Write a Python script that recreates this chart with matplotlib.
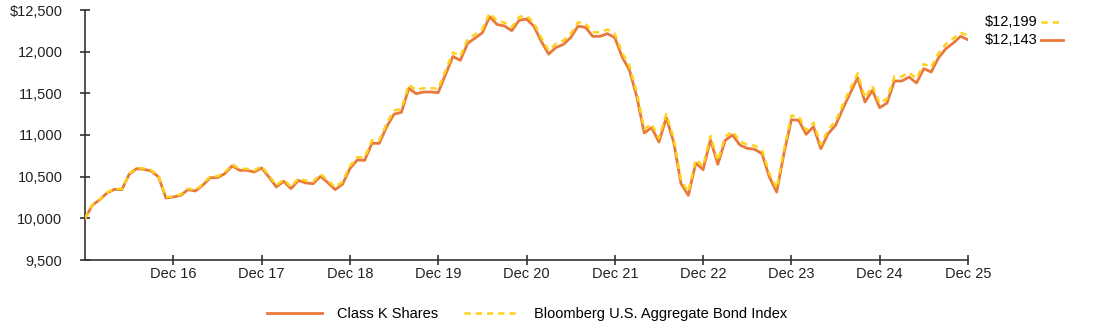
import numpy as np
import matplotlib
matplotlib.use("Agg")
import matplotlib.pyplot as plt
from matplotlib.lines import Line2D

plt.rcParams['font.family'] = ['Liberation Sans', 'DejaVu Sans']

# monthly values, Dec 2015 .. Dec 2025 (growth of $10,000)
class_k = [10000, 10156, 10224, 10304, 10348, 10344, 10528, 10596, 10588, 10568,
           10496, 10244, 10256, 10276, 10344, 10328, 10396, 10488, 10488, 10536,
           10630, 10576, 10576, 10556, 10604, 10496, 10376, 10444, 10356, 10456,
           10424, 10416, 10504, 10428, 10344, 10410, 10596, 10700, 10696, 10900,
           10900, 11100, 11250, 11272, 11560, 11496, 11516, 11516, 11508, 11726,
           11942, 11896, 12100, 12162, 12226, 12420, 12326, 12308, 12252, 12376,
           12392, 12306, 12126, 11970, 12050, 12086, 12168, 12306, 12292, 12184,
           12184, 12216, 12168, 11936, 11776, 11456, 11024, 11088, 10916, 11208,
           10916, 10416, 10276, 10664, 10584, 10944, 10648, 10936, 11000, 10880,
           10840, 10828, 10776, 10496, 10316, 10784, 11184, 11176, 11008, 11100,
           10836, 11016, 11116, 11316, 11504, 11688, 11396, 11536, 11328, 11384,
           11648, 11648, 11696, 11624, 11796, 11756, 11928, 12036, 12104, 12184,
           12143]

bbg_index = [10000, 10160, 10230, 10310, 10355, 10352, 10536, 10606, 10598, 10578,
             10505, 10252, 10265, 10287, 10356, 10340, 10410, 10502, 10504, 10552,
             10648, 10594, 10595, 10575, 10624, 10516, 10396, 10466, 10378, 10480,
             10450, 10442, 10532, 10456, 10372, 10440, 10628, 10734, 10730, 10936,
             10938, 11140, 11292, 11314, 11602, 11540, 11562, 11562, 11556, 11774,
             11990, 11944, 12146, 12208, 12272, 12462, 12368, 12350, 12294, 12418,
             12432, 12346, 12168, 12014, 12096, 12132, 12214, 12352, 12338, 12232,
             12234, 12266, 12218, 11986, 11826, 11504, 11070, 11134, 10960, 11252,
             10960, 10458, 10316, 10706, 10626, 10988, 10690, 10980, 11044, 10924,
             10884, 10872, 10820, 10540, 10360, 10830, 11232, 11224, 11056, 11148,
             10884, 11064, 11166, 11366, 11556, 11740, 11448, 11588, 11380, 11436,
             11702, 11702, 11750, 11678, 11852, 11812, 11984, 12092, 12160, 12225,
             12199]

x_labels = ['Dec 16', 'Dec 17', 'Dec 18', 'Dec 19', 'Dec 20',
            'Dec 21', 'Dec 22', 'Dec 23', 'Dec 24', 'Dec 25']
y_ticks = [9500, 10000, 10500, 11000, 11500, 12000, 12500]
y_labels = ['9,500', '10,000', '10,500', '11,000', '11,500', '12,000', '$12,500']
end_labels = ['$12,199', '$12,143']

orange = '#E8793A'
yellow = '#FFD21A'
axcol = '#333333'
fs = 10.5

fig = plt.figure(figsize=(10.94, 3.27), dpi=100)
ax = fig.add_axes([85/1094, 67/327, 883/1094, 250/327])

months = np.arange(len(class_k))
ax.plot(months, class_k, color=orange, lw=2.0, label='Class K Shares', zorder=3)
ax.plot(months, bbg_index, color=yellow, lw=1.8, ls=(0, (2.5, 2.0)),
        label='Bloomberg U.S. Aggregate Bond Index', zorder=4)

ax.set_xlim(0, 120)
ax.set_ylim(9500, 12500)
ax.set_xticks(np.arange(12, 121, 12))
ax.set_xticklabels(x_labels)
ax.set_yticks(y_ticks)
ax.set_yticklabels(y_labels)

for s in ['top', 'right']:
    ax.spines[s].set_visible(False)
for s in ['left', 'bottom']:
    ax.spines[s].set_color(axcol)
    ax.spines[s].set_linewidth(1.2)
ax.tick_params(axis='y', direction='inout', length=6.5, width=1.2, color=axcol,
               pad=13, labelsize=fs, labelcolor='#222222')
ax.tick_params(axis='x', direction='inout', length=6.5, width=1.2, color=axcol,
               pad=2, labelsize=fs, labelcolor='#222222')

# end-value labels on the right
fig.text(985/1094, 1 - 22/327, end_labels[0], fontsize=fs, va='center', ha='left')
fig.text(985/1094, 1 - 40/327, end_labels[1], fontsize=fs, va='center', ha='left')
fig.add_artist(Line2D([1041/1094, 1063/1094], [1 - 22/327] * 2, color=yellow, lw=1.8,
                      ls=(0, (2.5, 2.0)), transform=fig.transFigure))
fig.add_artist(Line2D([1041/1094, 1063/1094], [1 - 40/327] * 2, color=orange, lw=2.0,
                      transform=fig.transFigure))

fig.legend(loc='center', bbox_to_anchor=(0.482, 1 - 314/327), ncol=2, frameon=False,
           fontsize=fs, handlelength=3.8, columnspacing=1.8, handletextpad=1.0)

fig.savefig('out.png', dpi=100)
